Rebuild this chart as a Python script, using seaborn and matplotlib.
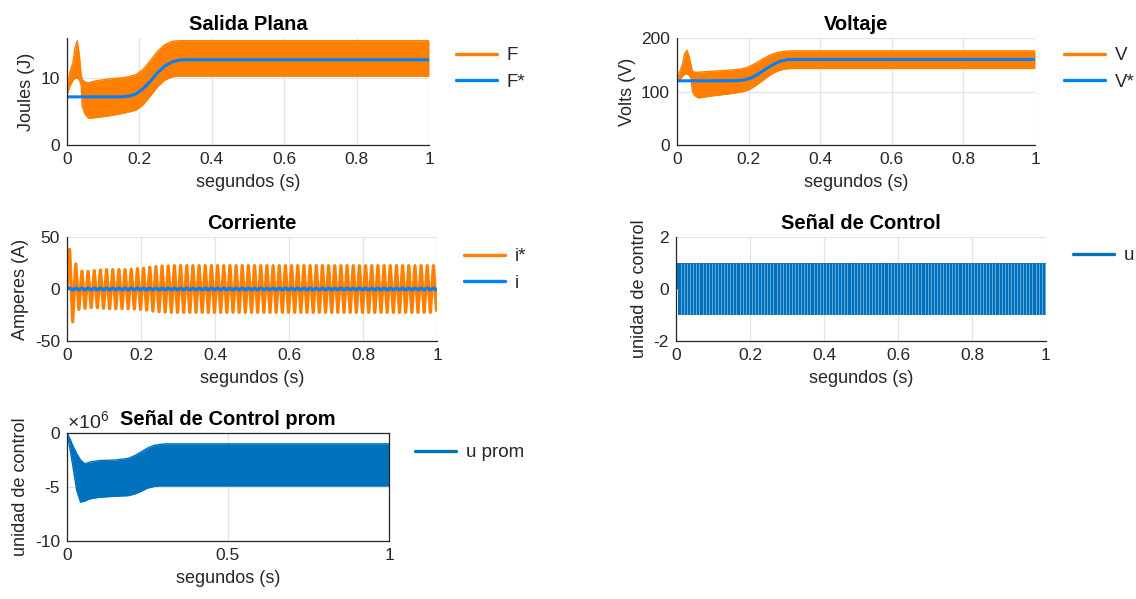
import numpy as np
import matplotlib
matplotlib.use("Agg")
import matplotlib.pyplot as plt
import seaborn as sns
from matplotlib.lines import Line2D
from matplotlib.ticker import FuncFormatter

# ---------------- data ----------------
# Salida plana: envelope of the fast ripple on F and the smooth reference F*
f_env_t = [0.0, 0.008, 0.016, 0.022, 0.028, 0.034, 0.039, 0.042, 0.05, 0.06, 0.08,
           0.12, 0.16, 0.19, 0.21, 0.23, 0.25, 0.27, 0.29, 0.31, 0.33, 1.0]
f_env_hi = [7.7, 11.0, 12.2, 14.5, 15.6, 13.5, 10.5, 9.8, 9.4, 9.3, 9.6,
            9.9, 10.1, 10.5, 11.3, 12.6, 14.0, 15.0, 15.5, 15.6, 15.6, 15.6]
f_env_lo = [7.5, 8.8, 9.6, 10.0, 10.0, 9.8, 9.0, 5.8, 4.6, 4.0, 4.1,
            4.4, 4.8, 5.2, 6.0, 7.3, 8.7, 9.7, 10.2, 10.3, 10.3, 10.3]
f_ref_t = [0.0, 0.15, 0.17, 0.19, 0.21, 0.23, 0.25, 0.27, 0.29, 0.31, 0.33, 1.0]
f_ref = [7.2, 7.2, 7.3, 7.6, 8.4, 9.5, 10.8, 11.8, 12.4, 12.7, 12.75, 12.75]

# Voltaje: envelope of V and reference V*
v_env_t = [0.0, 0.008, 0.015, 0.022, 0.028, 0.034, 0.039, 0.043, 0.05, 0.06, 0.1,
           0.15, 0.18, 0.2, 0.22, 0.24, 0.26, 0.28, 0.3, 0.32, 1.0]
v_env_hi = [121, 138, 150, 172, 177, 165, 150, 138, 136, 136, 138,
            140, 142, 146, 153, 161, 168, 173, 175, 176, 176]
v_env_lo = [119, 122, 128, 133, 133, 130, 125, 100, 92, 88, 92,
            96, 99, 103, 111, 121, 131, 138, 142, 143, 143]
v_ref_t = [0.0, 0.15, 0.17, 0.19, 0.21, 0.23, 0.25, 0.27, 0.29, 0.31, 0.33, 1.0]
v_ref = [120, 120, 120.5, 122, 126, 134, 143, 151, 157, 159.5, 160, 160]

# Corriente: 60 Hz oscillation, positive / negative peak of each cycle
i_freq_hz = 60.0
i_first_peak_s = 0.007
i_pos_peaks = [38.1, 24.0, 17.0, 17.0, 17.6, 18.3, 18.6, 18.6, 18.6, 18.6,
               18.9, 19.6, 19.9, 20.8, 21.5, 22.1, 22.1, 22.4, 22.4, 22.4,
               22.4, 22.4, 22.4, 22.4, 22.4, 22.4, 22.4, 22.4, 22.4, 22.4,
               22.4, 22.4, 22.4, 22.4, 22.4, 22.4, 22.4, 22.4, 22.4, 22.4,
               22.4, 22.4, 22.4, 22.4, 22.4, 22.4, 22.4, 22.4, 22.4, 22.4,
               22.4, 22.4, 22.4, 22.4, 22.4, 22.4, 22.4, 22.4, 22.4, 22.4]
i_neg_peaks = [-31.4, -19.6, -18.6, -17.9, -17.9, -18.6, -18.9, -18.9, -18.9, -18.9,
               -19.2, -19.6, -20.2, -21.2, -21.8, -22.1, -22.4, -22.4, -22.4, -22.4,
               -22.4, -22.4, -22.4, -22.4, -22.4, -22.4, -22.4, -22.4, -22.4, -22.4,
               -22.4, -22.4, -22.4, -22.4, -22.4, -22.4, -22.4, -22.4, -22.4, -22.4,
               -22.4, -22.4, -22.4, -22.4, -22.4, -22.4, -22.4, -22.4, -22.4, -22.4,
               -22.4, -22.4, -22.4, -22.4, -22.4, -22.4, -22.4, -22.4, -22.4, -20.5]
i_ripple = 0.9

# Senal de control: switches between -1 and +1
u_levels = [-1.0, 1.0]
u_start_s = 0.005
u_switch_hz = 120.0

# Senal de control promedio (units of 1e6): envelope
up_env_t = [0.0, 0.01, 0.02, 0.03, 0.042, 0.055, 0.07, 0.1, 0.15, 0.19, 0.21,
            0.23, 0.25, 0.27, 0.29, 0.31, 1.0]
up_env_hi = [0.0, -0.6, -1.3, -1.9, -2.5, -2.85, -2.7, -2.55, -2.5, -2.35, -2.1,
             -1.75, -1.4, -1.15, -1.05, -1.0, -1.0]
up_env_lo = [0.0, -1.6, -3.4, -5.3, -6.4, -6.3, -6.1, -5.95, -5.85, -5.8, -5.65,
             -5.4, -5.1, -4.95, -4.9, -4.9, -4.9]
up_exponent = 6

xlabel = "segundos (s)"
x_ticks = [0, 0.2, 0.4, 0.6, 0.8, 1]

ORANGE = "#FF8000"
LBLUE = "#0080FF"
MBLUE = "#0072BD"
TXT = "#262626"
GRID = "#E3E3E3"

# ---------------- style ----------------
sns.set_style("white")
plt.rcParams["font.family"] = ["Liberation Sans", "DejaVu Sans"]
plt.rcParams["axes.unicode_minus"] = False
plt.rcParams["text.color"] = TXT
plt.rcParams["axes.labelcolor"] = TXT
plt.rcParams["xtick.color"] = TXT
plt.rcParams["ytick.color"] = TXT
plt.rcParams["mathtext.fontset"] = "custom"
plt.rcParams["mathtext.rm"] = "Liberation Sans"

TICK_FS = 12.5
LABEL_FS = 13.0
TITLE_FS = 14.5
LEG_FS = 13.5

W, H = 1136, 599
fig = plt.figure(figsize=(W / 100, H / 100), dpi=100)


def px_axes(x0, x1, ytop, ybot):
    return fig.add_axes([x0 / W, 1 - ybot / H, (x1 - x0) / W, (ybot - ytop) / H])


def plain(v, p):
    return f"{v:g}"


def style_axes(ax, ylim, yticks, xticks, title, ylabel, box=False):
    ax.set_xlim(0, 1)
    ax.set_ylim(*ylim)
    ax.set_xticks(xticks)
    ax.set_yticks(yticks)
    ax.xaxis.set_major_formatter(FuncFormatter(plain))
    ax.yaxis.set_major_formatter(FuncFormatter(plain))
    ax.grid(True, color=GRID, linewidth=0.9)
    ax.set_axisbelow(True)
    ax.tick_params(direction="in", length=4, width=0.8, labelsize=TICK_FS, pad=5)
    for s in ["left", "bottom"]:
        ax.spines[s].set_color(TXT)
        ax.spines[s].set_linewidth(0.9)
    for s in ["top", "right"]:
        ax.spines[s].set_visible(box)
        ax.spines[s].set_color(TXT)
        ax.spines[s].set_linewidth(0.9)
    ax.set_title(title, fontsize=TITLE_FS, fontweight="bold", color="black", pad=6)
    ax.set_xlabel(xlabel, fontsize=LABEL_FS, labelpad=5)
    ax.set_ylabel(ylabel, fontsize=LABEL_FS, labelpad=4)


def add_legend(ax, handles, labels, fx, fy):
    ax.legend(handles, labels, loc="upper left", bbox_to_anchor=(fx / W, 1 - fy / H),
              bbox_transform=fig.transFigure, frameon=False, fontsize=LEG_FS,
              handlelength=2.2, handletextpad=0.5, labelspacing=0.5,
              borderpad=0, borderaxespad=0)


def line_handle(color):
    return Line2D([], [], color=color, linewidth=2.4)


# ---- Salida Plana ----
ax1 = px_axes(67, 429, 38, 145)
ax1.fill_between(f_env_t, f_env_lo, f_env_hi, color=ORANGE, linewidth=0)
sns.lineplot(x=f_env_t, y=f_env_hi, ax=ax1, color=ORANGE, linewidth=1.0, estimator=None)
sns.lineplot(x=f_env_t, y=f_env_lo, ax=ax1, color=ORANGE, linewidth=1.0, estimator=None)
sns.lineplot(x=f_ref_t, y=f_ref, ax=ax1, color=LBLUE, linewidth=2.2, estimator=None)
style_axes(ax1, (0, 16), [0, 10], x_ticks, "Salida Plana", "Joules (J)")
add_legend(ax1, [line_handle(ORANGE), line_handle(LBLUE)], ["F", "F*"], 456, 47)

# ---- Voltaje ----
ax2 = px_axes(677, 1035, 38, 145)
ax2.fill_between(v_env_t, v_env_lo, v_env_hi, color=ORANGE, linewidth=0)
sns.lineplot(x=v_env_t, y=v_env_hi, ax=ax2, color=ORANGE, linewidth=1.0, estimator=None)
sns.lineplot(x=v_env_t, y=v_env_lo, ax=ax2, color=ORANGE, linewidth=1.0, estimator=None)
sns.lineplot(x=v_ref_t, y=v_ref, ax=ax2, color=LBLUE, linewidth=2.2, estimator=None)
style_axes(ax2, (0, 200), [0, 100, 200], x_ticks, "Voltaje", "Volts (V)")
add_legend(ax2, [line_handle(ORANGE), line_handle(LBLUE)], ["V", "V*"], 1064, 47)

# ---- Corriente ----
ax3 = px_axes(67, 437, 237, 341)
n_cyc = len(i_pos_peaks)
t_pos = i_first_peak_s + np.arange(n_cyc) / i_freq_hz
t_neg = t_pos + 0.5 / i_freq_hz
i_t = np.concatenate([[0.0], np.ravel(np.column_stack([t_pos, t_neg]))])
i_ref = np.concatenate([[0.0], np.ravel(np.column_stack([i_pos_peaks, i_neg_peaks]))])
i_meas = np.concatenate([[0.0], np.ravel(np.column_stack([np.full(n_cyc, i_ripple),
                                                          np.full(n_cyc, -i_ripple)]))])
keep = i_t <= 1.0
sns.lineplot(x=i_t[keep], y=i_ref[keep], ax=ax3, color=ORANGE, linewidth=2.4,
             estimator=None, sort=False)
sns.lineplot(x=i_t[keep], y=i_meas[keep], ax=ax3, color=LBLUE, linewidth=2.4,
             estimator=None, sort=False)
style_axes(ax3, (-50, 50), [-50, 0, 50], x_ticks, "Corriente", "Amperes (A)")
add_legend(ax3, [line_handle(ORANGE), line_handle(LBLUE)], ["i*", "i"], 464, 248)

# ---- Senal de Control ----
ax4 = px_axes(676, 1046, 237, 341)
ax4.fill_between([0, u_start_s], [0, 0], [u_levels[1], u_levels[1]], color=MBLUE, linewidth=0)
ax4.fill_between([u_start_s, 1.0], [u_levels[0]] * 2, [u_levels[1]] * 2, color=MBLUE, linewidth=0)
sw = np.arange(u_start_s + 1 / u_switch_hz, 1.0, 1 / u_switch_hz)
ax4.vlines(sw, u_levels[0], u_levels[1], color="white", linewidth=0.6, alpha=0.45)
style_axes(ax4, (-2, 2), [-2, 0, 2], x_ticks, "Señal de Control", "unidad de control")
add_legend(ax4, [line_handle(MBLUE)], ["u"], 1073, 247)

# ---- Senal de Control prom ----
ax5 = px_axes(67, 389, 433, 541)
scale = 10.0 ** up_exponent
lo5 = np.array(up_env_lo) * scale
hi5 = np.array(up_env_hi) * scale
ax5.fill_between(up_env_t, lo5, hi5, color=MBLUE, linewidth=0)
sns.lineplot(x=up_env_t, y=hi5, ax=ax5, color=MBLUE, linewidth=1.0, estimator=None)
sns.lineplot(x=up_env_t, y=lo5, ax=ax5, color=MBLUE, linewidth=1.0, estimator=None)
style_axes(ax5, (-10 * scale, 0), [-10 * scale, -5 * scale, 0], [0, 0.5, 1],
           "Señal de Control prom", "unidad de control", box=True)
ax5.yaxis.set_major_formatter(FuncFormatter(lambda v, p: f"{v / scale:g}"))
ax5.text(0.0, 1.0, r"$\times10^{%d}$" % up_exponent, transform=ax5.transAxes,
         ha="left", va="bottom", fontsize=14, color=TXT)
add_legend(ax5, [line_handle(MBLUE)], ["u prom"], 415, 444)

fig.savefig("out.png", dpi=100)
